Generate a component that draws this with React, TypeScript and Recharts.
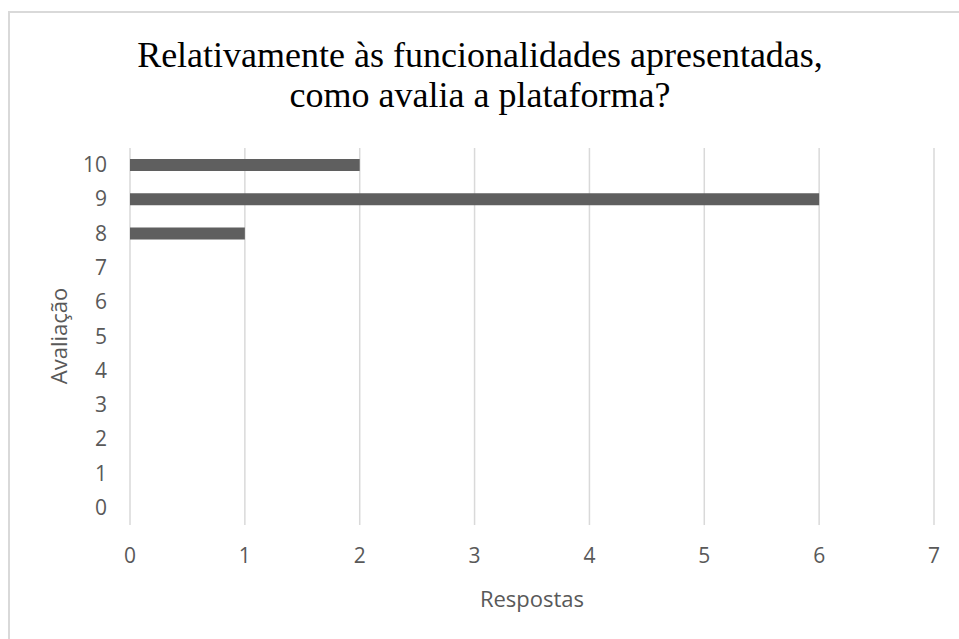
import React from 'react';
import { BarChart, Bar, XAxis, YAxis, CartesianGrid } from 'recharts';

const ratings = ['0', '1', '2', '3', '4', '5', '6', '7', '8', '9', '10'];
const responses = [0, 0, 0, 0, 0, 0, 0, 0, 1, 6, 2];
const xTicks = [0, 1, 2, 3, 4, 5, 6, 7];
const titleLines = ['Relativamente às funcionalidades apresentadas,', 'como avalia a plataforma?'];

const data = ratings.map((r, i) => ({ rating: r, value: responses[i] }));

const FONT = '"Open Sans", sans-serif';
const GREY = '#595959';

function XTick({ x, y, payload }: any) {
  return (
    <text x={x} y={y + 28} textAnchor="middle" fontSize={21} fontFamily={FONT} fill={GREY}>
      {payload.value}
    </text>
  );
}

function YTick({ x, y, payload }: any) {
  return (
    <text x={x} y={y + 7} textAnchor="end" fontSize={21} fontFamily={FONT} fill={GREY}>
      {payload.value}
    </text>
  );
}

export default function App() {
  return (
    <div style={{ position: 'absolute', left: 0, top: 0, width: 959, height: 639, background: '#fff', overflow: 'hidden' }}>
      <div style={{ position: 'absolute', left: 8, top: 11, width: 980, height: 660, borderTop: '2px solid #d9d9d9', borderLeft: '2px solid #d9d9d9' }} />
      <div style={{ position: 'absolute', left: 0, top: 0 }}>
        <BarChart
          width={959}
          height={639}
          data={data}
          layout="vertical"
          margin={{ top: 148, right: 25, bottom: 34, left: 60 }}
        >
          <CartesianGrid horizontal={false} stroke="#d9d9d9" strokeWidth={1.5} />
          <XAxis
            type="number"
            domain={[0, 7]}
            ticks={xTicks}
            height={80}
            axisLine={false}
            tickLine={false}
            tickMargin={4}
            tick={<XTick />}
          />
          <YAxis
            type="category"
            dataKey="rating"
            reversed
            width={70}
            axisLine={false}
            tickLine={false}
            tickMargin={17}
            tick={<YTick />}
            interval={0}
          />
          <Bar dataKey="value" fill="#5f5f5f" barSize={12} isAnimationActive={false} />
        </BarChart>
      </div>
      <svg width={959} height={639} style={{ position: 'absolute', left: 0, top: 0, pointerEvents: 'none' }}>
        <text x={480} y={67} textAnchor="middle" fontFamily='"Liberation Serif", serif' fontSize={36} fill="#000">
          {titleLines[0]}
        </text>
        <text x={480} y={107} textAnchor="middle" fontFamily='"Liberation Serif", serif' fontSize={36} fill="#000">
          {titleLines[1]}
        </text>
        <text x={532} y={607} textAnchor="middle" fontFamily={FONT} fontSize={22} fill={GREY}>
          Respostas
        </text>
        <text
          x={0}
          y={0}
          transform="translate(67 336) rotate(-90)"
          textAnchor="middle"
          fontFamily={FONT}
          fontSize={22}
          fill={GREY}
        >
          Avaliação
        </text>
      </svg>
    </div>
  );
}
